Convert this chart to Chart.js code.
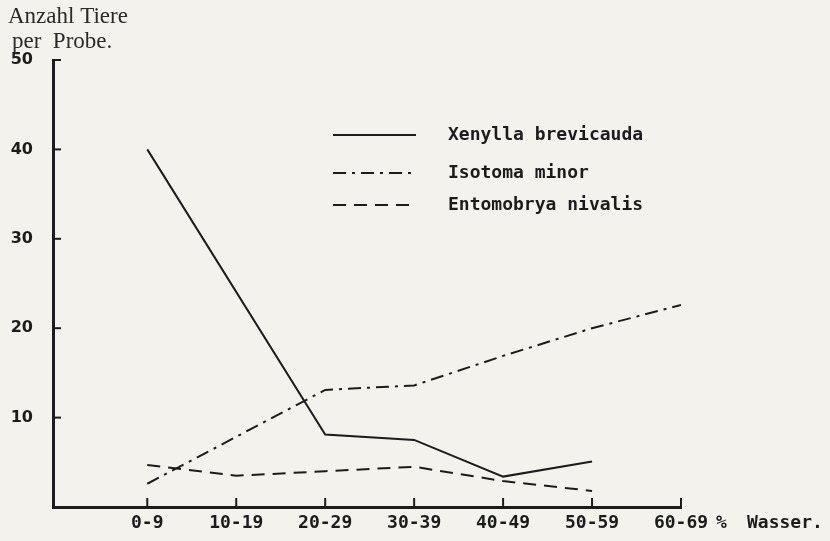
<!DOCTYPE html>
<html>
<head>
<meta charset="utf-8">
<script src="https://cdn.jsdelivr.net/npm/chart.js@4"></script>
<style>
  html, body { margin: 0; padding: 0; background: #f4f2ec; }
  #wrap { width: 830px; height: 541px; }
</style>
</head>
<body>
<div id="wrap"><canvas id="chart" width="830" height="541"></canvas></div>
<script>
// water content classes (x axis)
const categories = ['0-9', '10-19', '20-29', '30-39', '40-49', '50-59', '60-69'];
// animals per sample (null = no point drawn)
const xenylla = [40, null, 8.1, 7.5, 3.4, 5.1, null];
const isotoma = [2.6, null, 13.1, 13.6, 16.9, 20.0, 22.6];
const entomobrya = [4.7, 3.5, 4.0, 4.5, 2.9, 1.8, null];
const yTicks = [10, 20, 30, 40, 50];

const ink = '#1c1c1c';
const mono = '"DejaVu Sans Mono", "Liberation Mono", monospace';

function points(arr) {
  return arr.map((v, i) => ({ x: i, y: v }));
}

// axis ticks pointing inward, small hook at the top of the y axis, texts
const decor = {
  id: 'decor',
  afterDraw(chart) {
    const ctx = chart.ctx;
    const xs = chart.scales.x, ys = chart.scales.y;
    const area = chart.chartArea;
    ctx.save();
    ctx.strokeStyle = ink;
    ctx.lineWidth = 2;
    categories.forEach((c, i) => {
      const px = xs.getPixelForValue(i);
      ctx.beginPath();
      ctx.moveTo(px, area.bottom);
      ctx.lineTo(px, area.bottom - 9);
      ctx.stroke();
    });
    yTicks.forEach(t => {
      const py = ys.getPixelForValue(t);
      ctx.beginPath();
      ctx.moveTo(area.left, py);
      ctx.lineTo(area.left + 8, py);
      ctx.stroke();
    });

    // y axis title
    ctx.fillStyle = '#2a2a2a';
    ctx.font = '23px "Liberation Serif", "DejaVu Serif", serif';
    ctx.textAlign = 'left';
    ctx.textBaseline = 'middle';
    ctx.fillText('Anzahl Tiere', 8, 17);
    ctx.fillText('per  Probe.', 12, 42);

    // unit after the last class label
    ctx.fillStyle = ink;
    ctx.font = 'bold 18px ' + mono;
    const ly = area.bottom + 16;
    ctx.fillText('%', 716, ly);
    ctx.fillText('Wasser.', 747, ly);

    // legend
    const legend = [
      [chart.data.datasets[0], 135],
      [chart.data.datasets[1], 173],
      [chart.data.datasets[2], 205]
    ];
    ctx.font = 'bold 18px ' + mono;
    legend.forEach(([ds, y]) => {
      ctx.strokeStyle = ink;
      ctx.lineWidth = 2;
      ctx.setLineDash(ds.borderDash || []);
      ctx.beginPath();
      ctx.moveTo(333, y);
      ctx.lineTo(416, y);
      ctx.stroke();
      ctx.setLineDash([]);
      ctx.fillText(ds.label, 448, y);
    });
    ctx.restore();
  }
};

const ctx = document.getElementById('chart').getContext('2d');
const chart = new Chart(ctx, {
  type: 'line',
  data: {
    datasets: [
      { label: 'Xenylla brevicauda', data: points(xenylla), borderDash: [] },
      { label: 'Isotoma minor', data: points(isotoma), borderDash: [13, 6, 3, 6] },
      { label: 'Entomobrya nivalis', data: points(entomobrya), borderDash: [13, 8] }
    ].map(d => Object.assign(d, {
      borderColor: ink,
      borderWidth: 2,
      pointRadius: 0,
      tension: 0,
      spanGaps: true,
      fill: false
    }))
  },
  options: {
    responsive: false,
    animation: false,
    layout: { padding: { top: 60, right: 149, bottom: 0, left: 0 } },
    plugins: {
      legend: { display: false },
      tooltip: { enabled: false }
    },
    scales: {
      x: {
        type: 'linear',
        min: -1.06,
        max: 6,
        afterBuildTicks: s => { s.ticks = categories.map((c, i) => ({ value: i })); },
        afterFit: s => { s.height = 34; },
        grid: { display: false, drawTicks: false },
        border: { color: ink, width: 3 },
        ticks: {
          autoSkip: false,
          maxRotation: 0,
          padding: 6,
          color: ink,
          font: { family: mono, size: 18, weight: 'bold' },
          callback: v => categories[v] ?? ''
        }
      },
      y: {
        min: 0,
        max: 50,
        afterBuildTicks: s => { s.ticks = yTicks.map(v => ({ value: v })); },
        afterFit: s => { s.width = 53; },
        grid: { display: false, drawTicks: false },
        border: { color: ink, width: 3 },
        ticks: {
          padding: 20,
          color: ink,
          font: { family: '"DejaVu Sans", sans-serif', size: 16, weight: 'bold' }
        }
      }
    }
  },
  plugins: [decor]
});
</script>
</body>
</html>
